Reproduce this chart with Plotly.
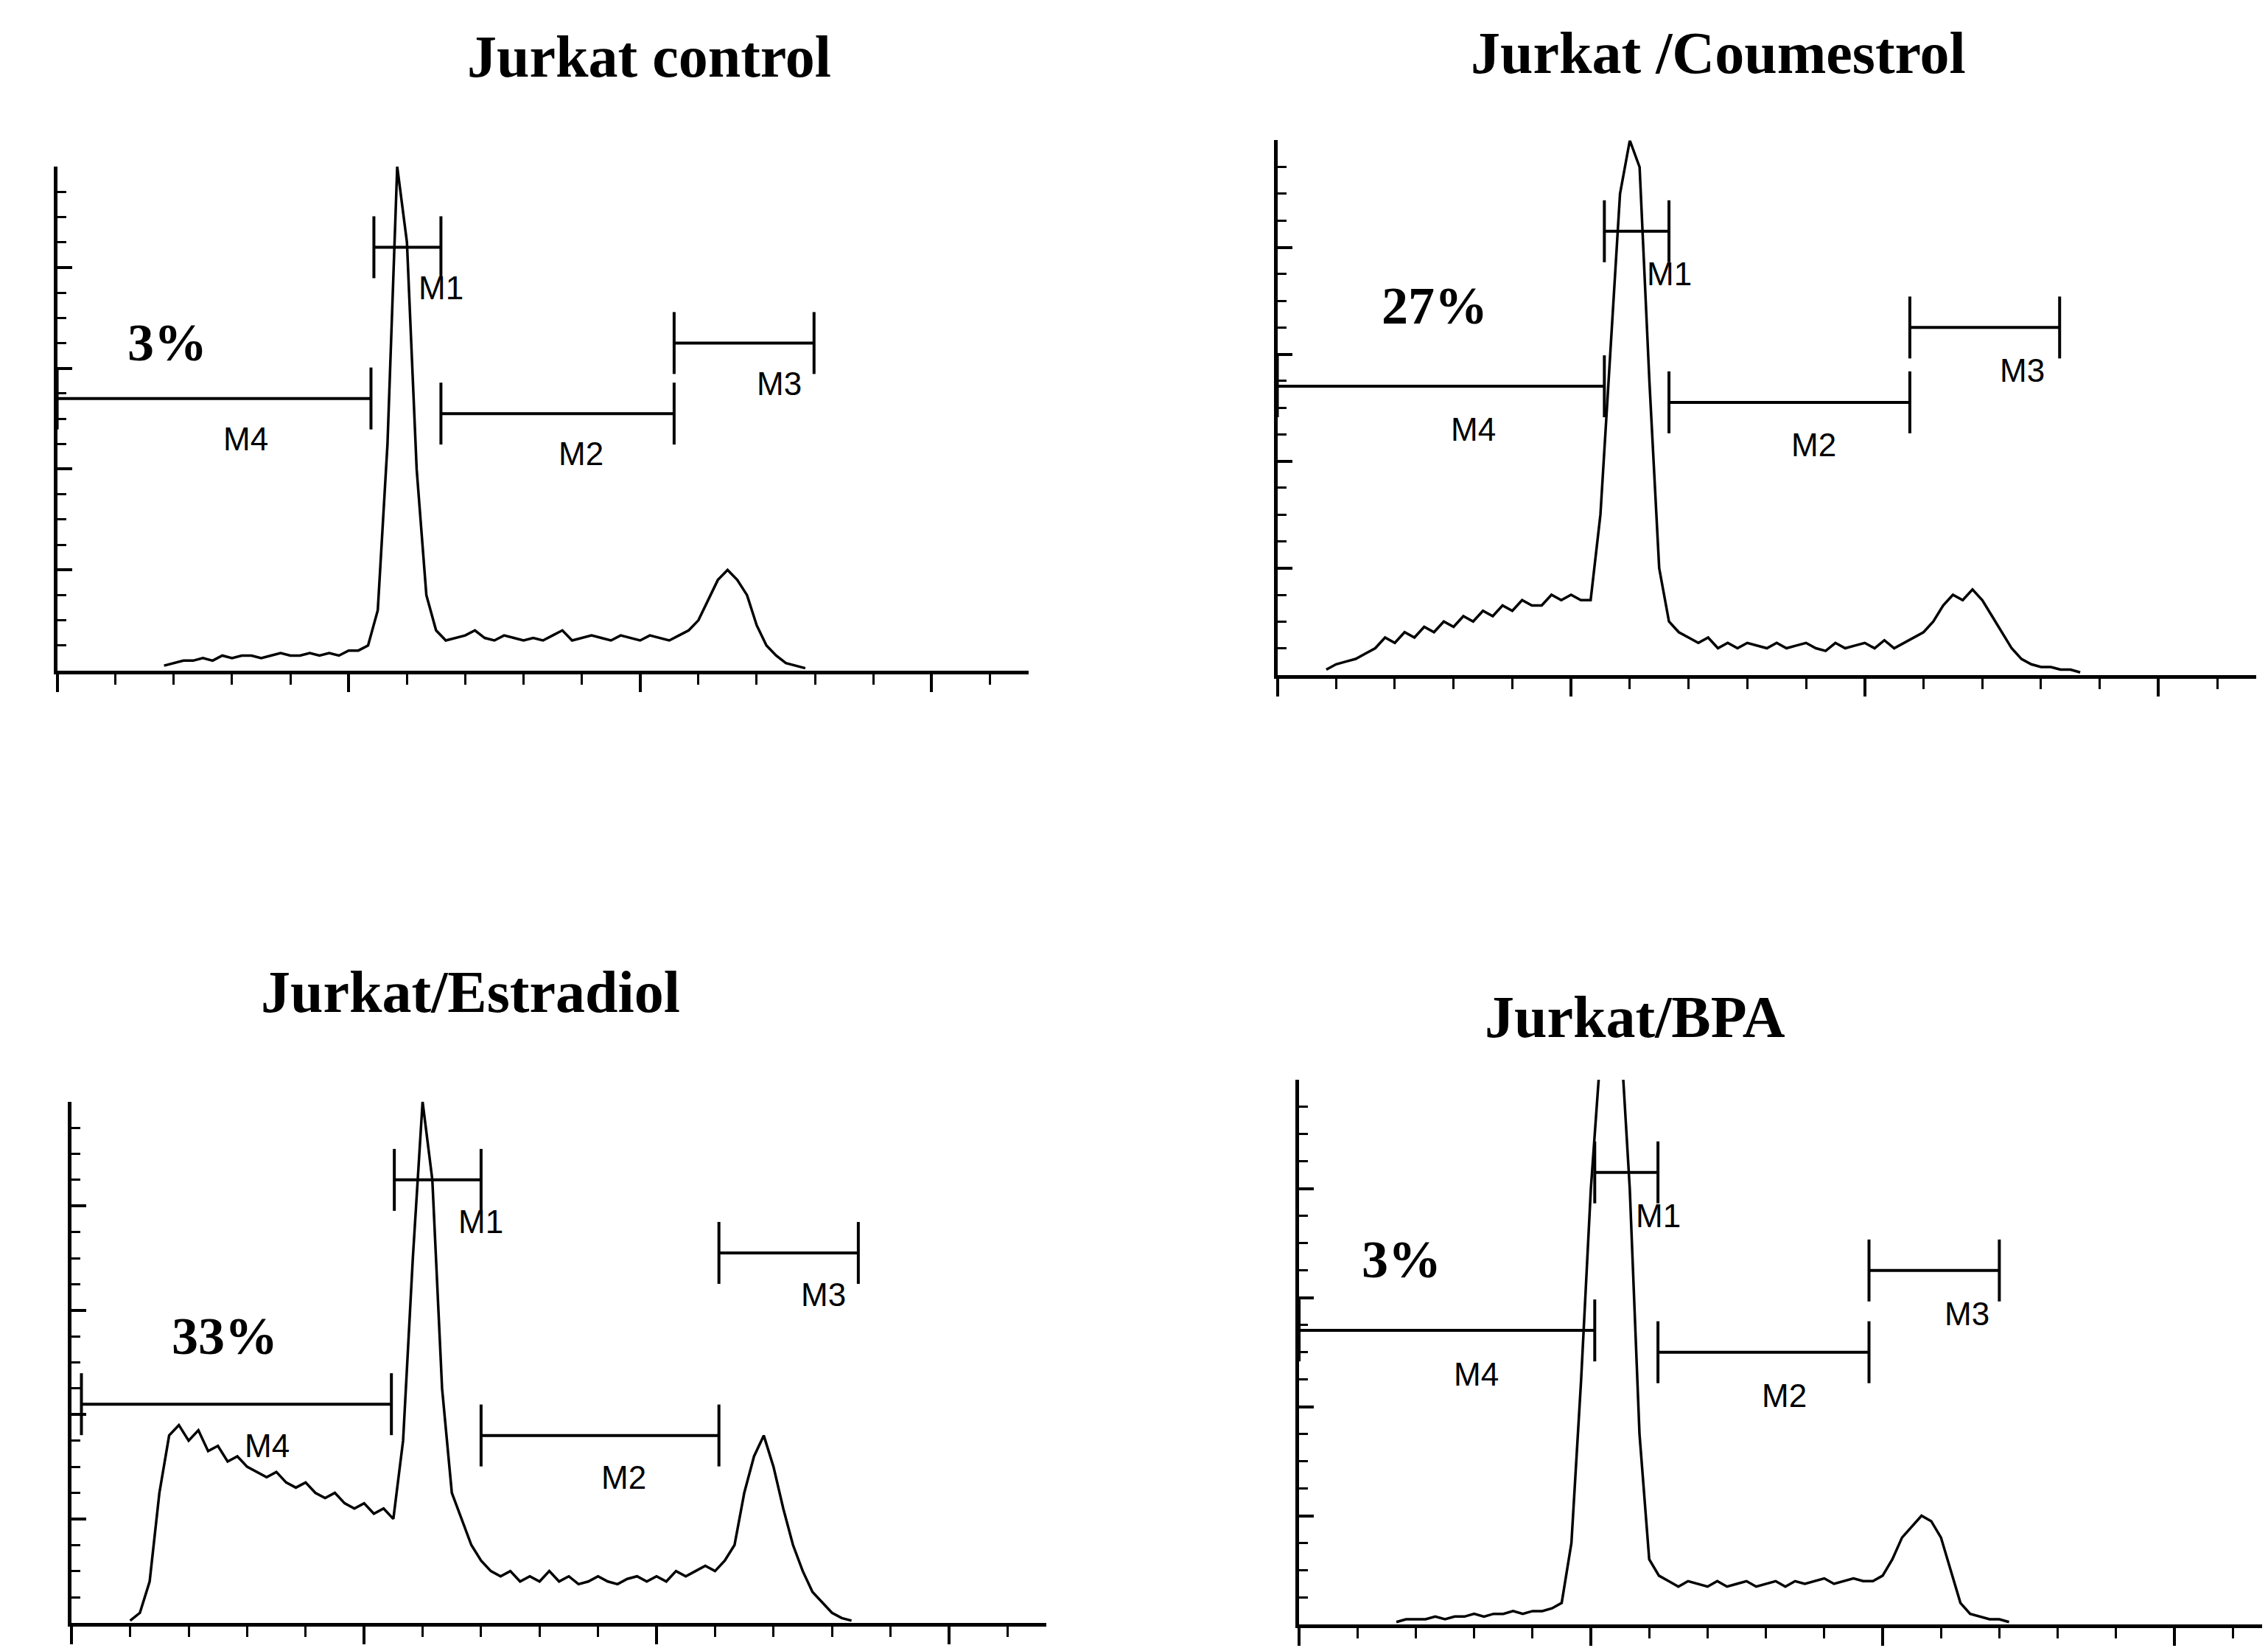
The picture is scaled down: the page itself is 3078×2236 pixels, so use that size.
import numpy as np
import plotly.graph_objects as go

# histogram data: first channel and counts (% of axis height), 10-channel bins
TITLES = ["Jurkat control", "Jurkat /Coumestrol", "Jurkat/Estradiol", "Jurkat/BPA"]
PERCENTS = ["3%", "27%", "33%", "3%"]
PCT_POS = [(113, 65), (161, 69), (157, 55), (105, 67)]

START = [110, 50, 60, 100]
COUNTS_CONTROL = [1, 1.5, 2, 2, 2.5, 2, 3, 2.5, 3, 3, 2.5, 3, 3.5, 3, 3, 3.5, 3, 3.5, 3, 4, 4,
                  5, 12, 45, 100, 85, 40, 15, 8, 6, 6.5, 7, 8, 6.5, 6, 7, 6.5, 6, 6.5, 6, 7, 8, 6,
                  6.5, 7, 6.5, 6, 7, 6.5, 6, 7, 6.5, 6, 7, 8, 10, 14, 18, 20, 18, 15, 9, 5, 3, 1.5, 1, 0.5]
COUNTS_COUMESTROL = [1, 2, 2.5, 3, 4, 5, 7, 6, 8, 7, 9, 8, 10, 9, 11, 10, 12, 11, 13, 12, 14, 13, 13,
                     15, 14, 15, 14, 14, 30, 60, 90, 100, 95, 55, 20, 10, 8, 7, 6, 7, 5, 6, 5, 6, 5.5,
                     5, 6, 5, 5.5, 6, 5, 4.5, 6, 5, 5.5, 6, 5, 6.5, 5, 6, 7, 8, 10, 13, 15, 14, 16, 14,
                     11, 8, 5, 3, 2, 1.5, 1.5, 1, 1, 0.5]
COUNTS_ESTRADIOL = [0.5, 2, 8, 25, 36, 38, 35, 37, 33, 34, 31, 32, 30, 29, 28, 29, 27, 26, 27, 25, 24,
                    25, 23, 22, 23, 21, 22, 20, 35, 70, 100, 85, 45, 25, 20, 15, 12, 10, 9, 10, 8, 9,
                    8, 10, 8, 9, 7.5, 8, 9, 8, 7.5, 8.5, 9, 8, 9, 8, 10, 9, 10, 11, 10, 12, 15, 25, 32,
                    36, 30, 22, 15, 10, 6, 4, 2, 1, 0.5]
COUNTS_BPA = [0.5, 1, 1, 1, 1.5, 1, 1.5, 1.5, 2, 1.5, 2, 2, 2.5, 2, 2.5, 2.5, 3, 4, 15, 45, 80, 105,
              110, 110, 80, 35, 12, 9, 8, 7, 8, 7.5, 7, 8, 7, 7.5, 8, 7, 7.5, 8, 7, 8, 7.5, 8, 8.5,
              7.5, 8, 8.5, 8, 8, 9, 12, 16, 18, 20, 19, 16, 10, 4, 2, 1.5, 1, 1, 0.5]
COUNTS = [COUNTS_CONTROL, COUNTS_COUMESTROL, COUNTS_ESTRADIOL, COUNTS_BPA]

# gates: name -> (start, end, level)
GATES = [
    {"M1": (326, 395, 84), "M2": (395, 635, 51), "M3": (635, 779, 65), "M4": (0, 323, 54)},
    {"M1": (334, 400, 83), "M2": (400, 646, 51), "M3": (646, 799, 65), "M4": (0, 334, 54)},
    {"M1": (331, 420, 85), "M2": (420, 664, 36), "M3": (664, 807, 71), "M4": (10, 328, 42)},
    {"M1": (304, 369, 83), "M2": (369, 586, 50), "M3": (586, 720, 65), "M4": (0, 304, 54)},
]
LABEL_FRAC = {"M1": 1.0, "M2": 0.6, "M3": 0.75, "M4": 0.6}

W, H = 3078, 2236
DOMX = [(0.0226, 0.451), (0.5606, 0.9923), (0.029, 0.4588), (0.5702, 0.999)]
DOMY = [(0.5966, 0.9025), (0.594, 0.9184), (0.0186, 0.3351), (0.0177, 0.3484)]
TITLE_POS = [(0.2835, 0.969), (0.755, 0.9716), (0.205, 0.4016), (0.7184, 0.3865)]

fig = go.Figure()
for i in range(4):
    xa = "x" if i == 0 else "x%d" % (i + 1)
    ya = "y" if i == 0 else "y%d" % (i + 1)
    counts = COUNTS[i]
    x = START[i] + 10 * np.arange(len(counts))
    fig.add_trace(go.Scatter(x=x, y=counts, mode="lines", line=dict(color="black", width=3.5),
                             xaxis=xa, yaxis=ya, showlegend=False, cliponaxis=True))
    for name, (g0, g1, lvl) in GATES[i].items():
        fig.add_trace(go.Scatter(x=[g0, g1], y=[lvl, lvl], mode="lines+markers",
                                 line=dict(color="black", width=4),
                                 marker=dict(symbol="line-ns", size=60, line=dict(width=4, color="black")),
                                 xaxis=xa, yaxis=ya, showlegend=False, cliponaxis=False))
        fig.add_annotation(x=g0 + LABEL_FRAC[name] * (g1 - g0), y=lvl - 8, xref=xa, yref=ya,
                           text=name, showarrow=False,
                           font=dict(family="Liberation Sans", size=44, color="black"))
    fig.add_annotation(x=PCT_POS[i][0], y=PCT_POS[i][1], xref=xa, yref=ya, text="<b>%s</b>" % PERCENTS[i],
                       showarrow=False, font=dict(family="Liberation Serif", size=72, color="black"))
    fig.add_annotation(x=TITLE_POS[i][0], y=TITLE_POS[i][1], xref="paper", yref="paper",
                       xanchor="center", yanchor="middle",
                       text="<b>%s</b>" % TITLES[i], showarrow=False,
                       font=dict(family="Liberation Serif", size=80, color="black"))
    key = "" if i == 0 else str(i + 1)
    fig.update_layout(**{
        "xaxis" + key: dict(domain=DOMX[i], anchor=ya, range=[0, 1000], showgrid=False, zeroline=False,
                            showline=True, linecolor="black", linewidth=5, ticks="outside", dtick=300,
                            tick0=0, ticklen=24, tickwidth=4, tickcolor="black", showticklabels=False,
                            minor=dict(dtick=60, ticks="outside", ticklen=14, tickwidth=3, tickcolor="black")),
        "yaxis" + key: dict(domain=DOMY[i], anchor=xa, range=[0, 100], showgrid=False, zeroline=False,
                            showline=True, linecolor="black", linewidth=5, ticks="inside", dtick=20,
                            ticklen=20, tickwidth=4, tickcolor="black", showticklabels=False,
                            minor=dict(dtick=5, ticks="inside", ticklen=12, tickwidth=3, tickcolor="black")),
    })

fig.update_layout(width=W, height=H, margin=dict(l=0, r=0, t=0, b=0),
                  plot_bgcolor="white", paper_bgcolor="white")
fig.write_html("out.html")
